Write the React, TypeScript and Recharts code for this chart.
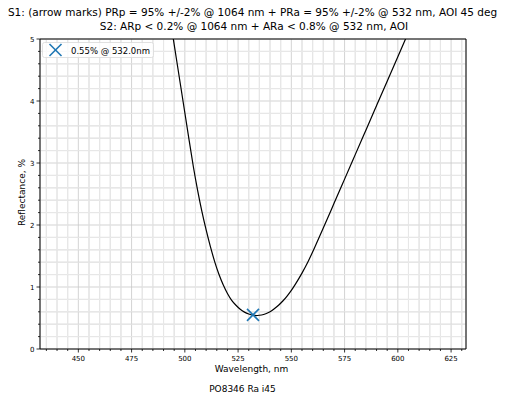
import { ComposedChart, Line, Scatter, XAxis, YAxis, CartesianGrid, ReferenceLine } from 'recharts'

const wavelengths = [488, 490, 492, 494, 496, 498, 500, 502, 504, 506, 508, 510, 512, 514, 516, 518, 520, 522, 524, 526, 528, 530, 532, 534, 536, 538, 540, 542, 544, 546, 548, 550, 552, 555, 558, 561, 565, 570, 575, 580, 585, 590, 595, 600, 605, 610]
const reflectance = [6.4, 6.0, 5.57, 5.13, 4.69, 4.25, 3.81, 3.37, 2.94, 2.56, 2.22, 1.92, 1.65, 1.41, 1.205, 1.035, 0.895, 0.785, 0.705, 0.64, 0.595, 0.565, 0.545, 0.54, 0.548, 0.568, 0.6, 0.648, 0.706, 0.774, 0.854, 0.946, 1.05, 1.224, 1.419, 1.64, 1.95, 2.345, 2.74, 3.135, 3.53, 3.925, 4.32, 4.715, 5.11, 5.5]

const markerPoint = [{ x: 532.0, y: 0.55 }]
const markerLabel = '0.55% @ 532.0nm'

const xTicks = [450, 475, 500, 525, 550, 575, 600, 625]
const yTicks = [0, 1, 2, 3, 4, 5]
const xMinor = [435, 440, 445, 455, 460, 465, 470, 480, 485, 490, 495, 505, 510, 515, 520, 530, 535, 540, 545, 555, 560, 565, 570, 580, 585, 590, 595, 605, 610, 615, 620, 630]
const yMinor = [0.2, 0.4, 0.6, 0.8, 1.2, 1.4, 1.6, 1.8, 2.2, 2.4, 2.6, 2.8, 3.2, 3.4, 3.6, 3.8, 4.2, 4.4, 4.6, 4.8]

const title1 = 'S1: (arrow marks) PRp = 95% +/-2% @ 1064 nm + PRa = 95% +/-2% @ 532 nm, AOI 45 deg'
const title2 = 'S2: ARp < 0.2% @ 1064 nm + ARa < 0.8% @ 532 nm, AOI'
const xLabel = 'Wavelength, nm'
const yLabel = 'Reflectance, %'
const footer = 'PO8346 Ra i45'

const curve = wavelengths.map((w, i) => ({ x: w, y: reflectance[i] }))
const font = 'DejaVu Sans, sans-serif'

const XTick = (props: any) => {
  const { x, y, payload } = props
  const major = xTicks.includes(payload.value)
  return (
    <g>
      <line x1={x} x2={x} y1={y} y2={y + (major ? 3.5 : 2)} stroke="#000" strokeWidth={0.8} />
      {major && (
        <text x={x} y={y + 11.5} textAnchor="middle" fontSize={7} fill="#000" fontFamily={font}>{payload.value}</text>
      )}
    </g>
  )
}

const YTick = (props: any) => {
  const { x, y, payload } = props
  const major = yTicks.includes(payload.value)
  return (
    <g>
      <line x1={x} x2={x - (major ? 3.5 : 2)} y1={y} y2={y} stroke="#000" strokeWidth={0.8} />
      {major && (
        <text x={x - 5.5} y={y + 2.5} textAnchor="end" fontSize={7} fill="#000" fontFamily={font}>{payload.value}</text>
      )}
    </g>
  )
}

const XMarker = (props: any) => {
  const { cx, cy } = props
  const r = 6
  return (
    <g stroke="#1f77b4" strokeWidth={1.6}>
      <line x1={cx - r} y1={cy - r} x2={cx + r} y2={cy + r} />
      <line x1={cx - r} y1={cy + r} x2={cx + r} y2={cy - r} />
    </g>
  )
}

export default function App() {
  return (
    <div style={{ position: 'absolute', left: 0, top: 0, width: 505, height: 400, background: '#fff' }}>
      <ComposedChart width={505} height={400} margin={{ top: 39, right: 39, bottom: 21, left: 0 }}>
        {xMinor.map(v => <ReferenceLine key={'xm' + v} x={v} stroke="#ececec" strokeWidth={0.8} />)}
        {yMinor.map(v => <ReferenceLine key={'ym' + v} y={v} stroke="#ececec" strokeWidth={0.8} />)}
        <CartesianGrid stroke="#c8c8c8" strokeWidth={0.8} />
        <XAxis type="number" dataKey="x" domain={[432, 632]} ticks={[...xTicks, ...xMinor].sort((a, b) => a - b)} interval={0}
          allowDataOverflow tick={<XTick />} tickLine={false} tickSize={0} tickMargin={0} stroke="#000" height={30} />
        <YAxis type="number" dataKey="y" domain={[0, 5]} ticks={[...yTicks, ...yMinor].sort((a, b) => a - b)} interval={0}
          allowDataOverflow tick={<YTick />} tickLine={false} tickSize={0} tickMargin={0} stroke="#000" width={40} />
        <ReferenceLine y={5} stroke="#000" strokeWidth={1} />
        <ReferenceLine x={632} stroke="#000" strokeWidth={1} />
        <Line data={curve} dataKey="y" type="natural" stroke="#000" strokeWidth={1.2} dot={false} isAnimationActive={false} />
        <Scatter data={markerPoint} dataKey="y" shape={<XMarker />} isAnimationActive={false} />
      </ComposedChart>
      <svg width={505} height={400} style={{ position: 'absolute', left: 0, top: 0, pointerEvents: 'none' }} fontFamily={font} fill="#000">
        <text x={252.5} y={15.5} textAnchor="middle" fontSize={10.5}>{title1}</text>
        <text x={254} y={29.5} textAnchor="middle" fontSize={10.5}>{title2}</text>
        <text x={251.5} y={371.5} textAnchor="middle" fontSize={9}>{xLabel}</text>
        <text x={242.5} y={392} textAnchor="middle" fontSize={9}>{footer}</text>
        <text x={0} y={0} transform="translate(24.5,192.5) rotate(-90)" textAnchor="middle" fontSize={9}>{yLabel}</text>
        <rect x={42.5} y={42.5} width={111} height={15} rx={2} fill="rgba(255,255,255,0.8)" stroke="#d9d9d9" strokeWidth={0.8} />
        <g stroke="#1f77b4" strokeWidth={1.6}>
          <line x1={49.5} y1={44} x2={61.5} y2={56} />
          <line x1={49.5} y1={56} x2={61.5} y2={44} />
        </g>
        <text x={71} y={53.5} fontSize={8.5}>{markerLabel}</text>
      </svg>
    </div>
  )
}
